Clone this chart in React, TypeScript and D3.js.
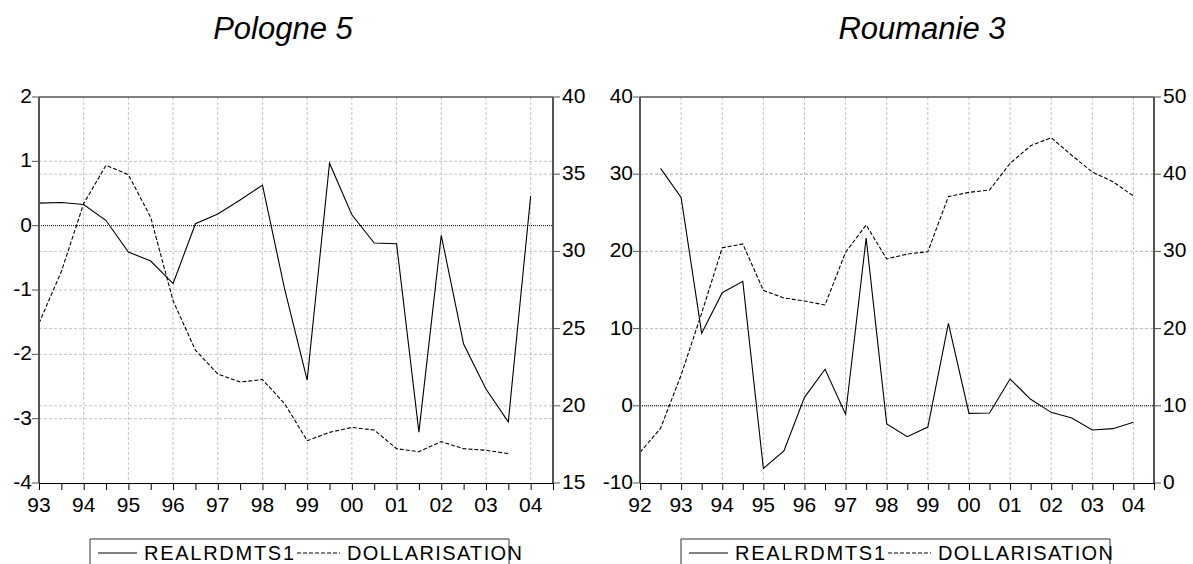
import React, { useEffect, useRef } from "react"
import * as d3 from "d3"

// half-year periods
const polPeriods = [
    1993, 1993.5, 1994, 1994.5, 1995, 1995.5, 1996, 1996.5, 1997, 1997.5, 1998, 1998.5,
    1999, 1999.5, 2000, 2000.5, 2001, 2001.5, 2002, 2002.5, 2003, 2003.5, 2004,
]
const polReal = [
    0.35, 0.36, 0.33, 0.08, -0.41, -0.55, -0.9, 0.03, 0.18, 0.4, 0.63, -1.0,
    -2.4, 0.97, 0.17, -0.27, -0.28, -3.21, -0.15, -1.84, -2.54, -3.05, 0.46,
]
const polDollar = [
    25.34, 28.7, 33.1, 35.58, 34.97, 32.2, 26.8, 23.6, 22.06, 21.54, 21.7, 20.12,
    17.74, 18.28, 18.6, 18.43, 17.22, 17.03, 17.68, 17.22, 17.12, 16.9, null,
]

const rouPeriods = [
    1992, 1992.5, 1993, 1993.5, 1994, 1994.5, 1995, 1995.5, 1996, 1996.5, 1997, 1997.5,
    1998, 1998.5, 1999, 1999.5, 2000, 2000.5, 2001, 2001.5, 2002, 2002.5, 2003, 2003.5, 2004,
]
const rouReal = [
    null, 30.76, 27.0, 9.39, 14.65, 16.12, -8.1, -5.86, 1.1, 4.73, -1.1, 21.74,
    -2.36, -4.0, -2.75, 10.69, -0.98, -0.93, 3.47, 0.84, -0.85, -1.58, -3.13, -2.96, -2.14,
]
const rouDollar = [
    3.97, 7.08, 13.99, 22.0, 30.47, 30.96, 24.95, 23.97, 23.58, 23.06, 29.9, 33.42,
    29.02, 29.66, 29.96, 37.1, 37.65, 37.95, 41.4, 43.69, 44.73, 42.45, 40.28, 39.03, 37.18,
]

const polLeftTicks = [2, 1, 0, -1, -2, -3, -4]
const polRightTicks = [40, 35, 30, 25, 20, 15]
const rouLeftTicks = [40, 30, 20, 10, 0, -10]
const rouRightTicks = [50, 40, 30, 20, 10, 0]

const seriesNames = ["REALRDMTS1", "DOLLARISATION"]

const panels = [
    {
        title: "Pologne 5",
        titleX: 283,
        periods: polPeriods,
        real: polReal,
        dollar: polDollar,
        xDomain: [1993, 2004.5],
        leftTicks: polLeftTicks,
        rightTicks: polRightTicks,
        left: 39,
        right: 553,
        legend: { x0: 90, x1: 509 },
    },
    {
        title: "Roumanie 3",
        titleX: 922,
        periods: rouPeriods,
        real: rouReal,
        dollar: rouDollar,
        xDomain: [1992, 2004.5],
        leftTicks: rouLeftTicks,
        rightTicks: rouRightTicks,
        left: 640,
        right: 1154,
        legend: { x0: 681, x1: 1110 },
    },
]

const FONT = "'Liberation Sans', Arial, sans-serif"
const TICK_SIZE = 21

const App = () => {
    const ref = useRef(null)

    useEffect(() => {
        if (!ref.current) return
        const svg = d3.select(ref.current)
        svg.selectAll("*").remove()
        panels.forEach((p) => drawPanel(svg, p))
    }, [])

    function drawPanel(svg, p) {
        const top = 97
        const bottom = 483
        const g = svg.append("g")

        const x = d3.scaleLinear().domain(p.xDomain).range([p.left, p.right])
        const yL = d3
            .scaleLinear()
            .domain(d3.extent(p.leftTicks))
            .range([bottom, top])
        const yR = d3
            .scaleLinear()
            .domain(d3.extent(p.rightTicks))
            .range([bottom, top])

        // title
        g.append("text")
            .attr("x", p.titleX)
            .attr("y", 39)
            .attr("text-anchor", "middle")
            .attr("font-family", FONT)
            .attr("font-style", "italic")
            .attr("font-size", 31)
            .text(p.title)

        // vertical grid at whole years
        const years = d3.range(Math.ceil(p.xDomain[0]) + 1, Math.floor(p.xDomain[1]) + 1)
        g.append("g")
            .selectAll("line")
            .data(years)
            .enter()
            .append("line")
            .attr("x1", (d) => x(d))
            .attr("x2", (d) => x(d))
            .attr("y1", top)
            .attr("y2", bottom)
            .attr("stroke", "#c4c4c4")
            .attr("stroke-dasharray", "3,2")

        // horizontal grid from both axes
        const hLines = []
        p.leftTicks.slice(1, -1).forEach((t) => {
            if (t !== 0) hLines.push(yL(t))
        })
        p.rightTicks.slice(1, -1).forEach((t) => hLines.push(yR(t)))
        g.append("g")
            .selectAll("line")
            .data(hLines)
            .enter()
            .append("line")
            .attr("x1", p.left)
            .attr("x2", p.right)
            .attr("y1", (d) => d)
            .attr("y2", (d) => d)
            .attr("stroke", "#c4c4c4")
            .attr("stroke-dasharray", "3,2")

        // zero line
        g.append("line")
            .attr("x1", p.left)
            .attr("x2", p.right)
            .attr("y1", yL(0))
            .attr("y2", yL(0))
            .attr("stroke", "#000")
            .attr("stroke-dasharray", "1,1")

        // series
        const lineReal = d3
            .line()
            .defined((d) => d[1] != null)
            .x((d) => x(d[0]))
            .y((d) => yL(d[1]))
        const lineDollar = d3
            .line()
            .defined((d) => d[1] != null)
            .x((d) => x(d[0]))
            .y((d) => yR(d[1]))

        g.append("path")
            .datum(p.periods.map((t, i) => [t, p.dollar[i]]))
            .attr("d", lineDollar)
            .attr("fill", "none")
            .attr("stroke", "#000")
            .attr("stroke-width", 1.1)
            .attr("stroke-dasharray", "4,2")

        g.append("path")
            .datum(p.periods.map((t, i) => [t, p.real[i]]))
            .attr("d", lineReal)
            .attr("fill", "none")
            .attr("stroke", "#000")
            .attr("stroke-width", 1.1)

        // frame
        g.append("line")
            .attr("x1", p.left)
            .attr("x2", p.right)
            .attr("y1", top)
            .attr("y2", top)
            .attr("stroke", "#000")
        g.append("line")
            .attr("x1", p.left)
            .attr("x2", p.left)
            .attr("y1", top)
            .attr("y2", bottom)
            .attr("stroke", "#555")
            .attr("stroke-width", 2)
        g.append("line")
            .attr("x1", p.right)
            .attr("x2", p.right)
            .attr("y1", top)
            .attr("y2", bottom)
            .attr("stroke", "#555")
            .attr("stroke-width", 2)

        // left axis
        const axL = g.append("g")
        p.leftTicks.forEach((t) => {
            axL.append("line")
                .attr("x1", p.left - 7)
                .attr("x2", p.left)
                .attr("y1", yL(t))
                .attr("y2", yL(t))
                .attr("stroke", "#555")
            axL.append("text")
                .attr("x", p.left - 7)
                .attr("y", yL(t) + 6)
                .attr("text-anchor", "end")
                .attr("font-family", FONT)
                .attr("font-size", TICK_SIZE)
                .text(t)
        })

        // right axis
        const axR = g.append("g")
        p.rightTicks.forEach((t) => {
            axR.append("line")
                .attr("x1", p.right)
                .attr("x2", p.right + 7)
                .attr("y1", yR(t))
                .attr("y2", yR(t))
                .attr("stroke", "#555")
            axR.append("text")
                .attr("x", p.right + 9)
                .attr("y", yR(t) + 6)
                .attr("font-family", FONT)
                .attr("font-size", TICK_SIZE)
                .text(t)
        })

        // bottom axis
        g.append("g")
            .attr("transform", "translate(0," + bottom + ")")
            .call(
                d3
                    .axisBottom(x)
                    .tickValues(d3.range(p.xDomain[0], p.xDomain[1] + 0.01, 0.5))
                    .tickSize(7)
                    .tickFormat(() => ""),
            )
            .call((s) => s.select(".domain").attr("stroke", "#000"))
        g.append("g")
            .selectAll("text")
            .data(d3.range(p.xDomain[0], Math.floor(p.xDomain[1]) + 1))
            .enter()
            .append("text")
            .attr("x", (d) => x(d))
            .attr("y", 512)
            .attr("text-anchor", "middle")
            .attr("font-family", FONT)
            .attr("font-size", TICK_SIZE)
            .text((d) => String(d % 100).padStart(2, "0"))

        // legend
        const lg = g.append("g")
        const lx = p.legend.x0
        lg.append("path")
            .attr("d", "M" + lx + ",570V539H" + p.legend.x1 + "V570")
            .attr("fill", "none")
            .attr("stroke", "#333")
        lg.append("line")
            .attr("x1", lx + 8)
            .attr("x2", lx + 47)
            .attr("y1", 553)
            .attr("y2", 553)
            .attr("stroke", "#000")
        lg.append("text")
            .attr("x", lx + 54)
            .attr("y", 559.5)
            .attr("font-family", FONT)
            .attr("font-size", 20)
            .attr("textLength", 150)
            .attr("lengthAdjust", "spacing")
            .text(seriesNames[0])
        lg.append("line")
            .attr("x1", lx + 207)
            .attr("x2", lx + 250)
            .attr("y1", 553)
            .attr("y2", 553)
            .attr("stroke", "#000")
            .attr("stroke-dasharray", "4,2")
        lg.append("text")
            .attr("x", lx + 257)
            .attr("y", 559.5)
            .attr("font-family", FONT)
            .attr("font-size", 20)
            .attr("textLength", 175)
            .attr("lengthAdjust", "spacing")
            .text(seriesNames[1])
    }

    return (
        <div style={{ position: "absolute", left: 0, top: 0 }}>
            <svg ref={ref} width={1193} height={564} style={{ display: "block", background: "#fff" }} />
        </div>
    )
}

export default App
